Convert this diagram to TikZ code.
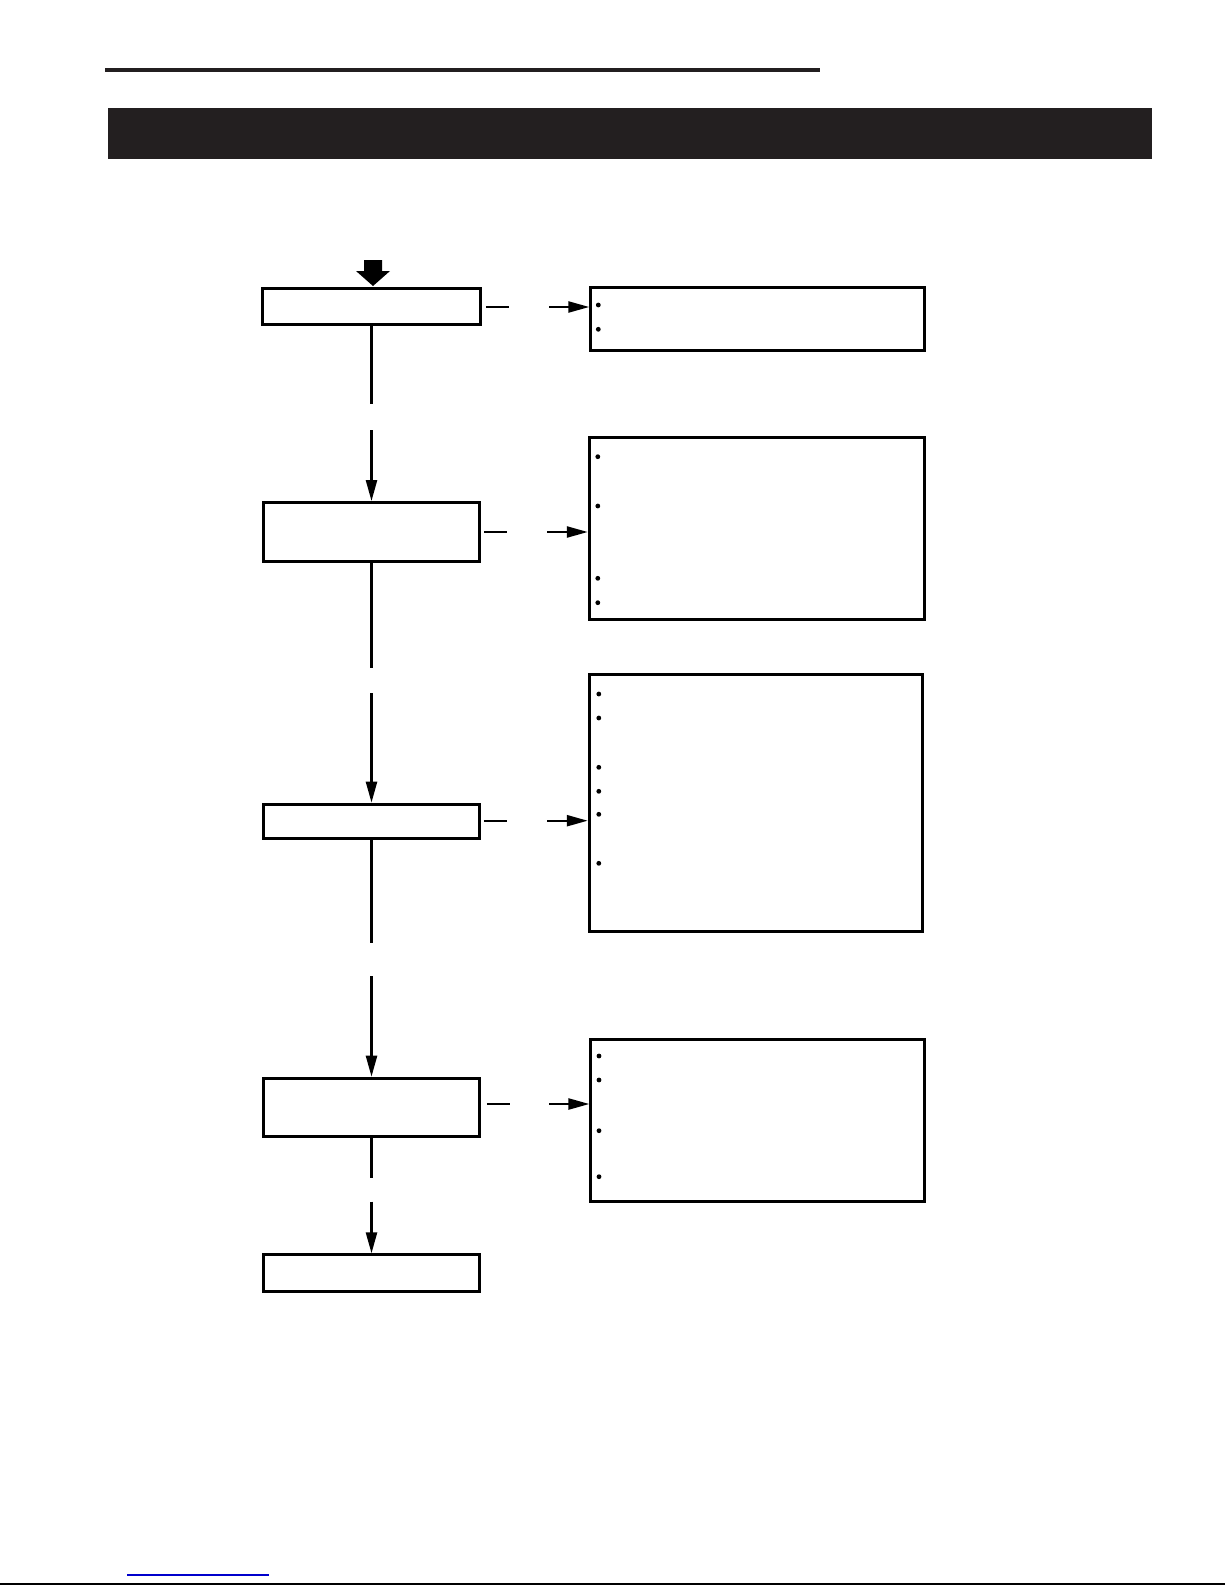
\documentclass[tikz,border=0pt]{standalone}
\usetikzlibrary{arrows.meta}
\definecolor{ink}{HTML}{231F20}
\definecolor{linkblue}{HTML}{0000CC}

\begin{document}
\begin{tikzpicture}[x=0.02cm, y=-0.02cm,
	stepbox/.style={draw, line width=1.7pt, inner sep=0pt},
	link/.style={line width=1.35pt},
	arr/.style={link, -{Triangle[length=0.42cm, width=0.22cm]}}]

\useasboundingbox (0,0) rectangle (1225,1585);

% page header
\fill[ink] (105,68.3) rectangle (820,72);
\fill[ink] (108,108) rectangle (1152,159);

% steps
\node[stepbox, minimum width=4.36cm, minimum height=0.708cm] (box1) at (371.5,306.5) {};
\node[stepbox, minimum width=4.34cm, minimum height=1.186cm] (box2) at (371.5,532.2) {};
\node[stepbox, minimum width=4.32cm, minimum height=0.686cm] (box3) at (371.5,821.3) {};
\node[stepbox, minimum width=4.32cm, minimum height=1.16cm] (box4) at (371.5,1107.2) {};
\node[stepbox, minimum width=4.32cm, minimum height=0.742cm] (box5) at (371.5,1273.4) {};

% notes
\node[stepbox, minimum width=6.674cm, minimum height=1.254cm] (note1) at (757.6,318.8) {};
\node[stepbox, minimum width=6.706cm, minimum height=3.64cm] (note2) at (756.9,528.2) {};
\node[stepbox, minimum width=6.676cm, minimum height=5.14cm] (note3) at (756.1,803.3) {};
\node[stepbox, minimum width=6.674cm, minimum height=3.252cm] (note4) at (757.7,1120.5) {};

% entry arrow
\fill (364,260) -- (382,260) -- (382,271) -- (390,271) -- (373,286)
	-- (356,271) -- (364,271) -- cycle;

% vertical flow, broken
\coordinate (v1a) at (371.5,404);   \coordinate (v1b) at (371.5,430);
\coordinate (v2a) at (371.5,668);   \coordinate (v2b) at (371.5,693.3);
\coordinate (v3a) at (371.5,942.7); \coordinate (v3b) at (371.5,976);
\coordinate (v4a) at (371.5,1177.7);\coordinate (v4b) at (371.5,1201.7);

\draw[link] (box1.south) -- (v1a);
\draw[arr]  (v1b) -- (box2.north);
\draw[link] (box2.south) -- (v2a);
\draw[arr]  (v2b) -- (box3.north);
\draw[link] (box3.south) -- (v3a);
\draw[arr]  (v3b) -- (box4.north);
\draw[link] (box4.south) -- (v4a);
\draw[arr]  (v4b) -- (box5.north);

% side arrows, broken
\coordinate (h1a) at (509,307);   \coordinate (h1b) at (549.3,307);
\coordinate (h2a) at (507,532);   \coordinate (h2b) at (547,532);
\coordinate (h3a) at (507,820.7); \coordinate (h3b) at (547,820.7);
\coordinate (h4a) at (510,1104);  \coordinate (h4b) at (549.3,1104);

\draw[link, shorten <=0.08cm] (box1.east |- h1a) -- (h1a);
\draw[arr] (h1b) -- (note1.west |- h1b);
\draw[link, shorten <=0.06cm] (box2.east |- h2a) -- (h2a);
\draw[arr] (h2b) -- (note2.west |- h2b);
\draw[link, shorten <=0.06cm] (box3.east |- h3a) -- (h3a);
\draw[arr] (h3b) -- (note3.west |- h3b);
\draw[link, shorten <=0.12cm] (box4.east |- h4a) -- (h4a);
\draw[arr] (h4b) -- (note4.west |- h4b);

% bullets
\foreach \y in {305,329.3} \fill (598.3,\y) circle (2.4);
\foreach \y in {456.7,506,578.3,602.7} \fill (597.8,\y) circle (2.4);
\foreach \y in {694,718,767.3,791.3,814.3,863.3} \fill (598.8,\y) circle (2.4);
\foreach \y in {1056,1080,1130.7,1176.7} \fill (599,\y) circle (2.4);

% page footer
\draw[linkblue, line width=0.6pt] (127,1575) -- (268.7,1575);
\fill (0,1583.3) rectangle (1225,1585);

\end{tikzpicture}
\end{document}
